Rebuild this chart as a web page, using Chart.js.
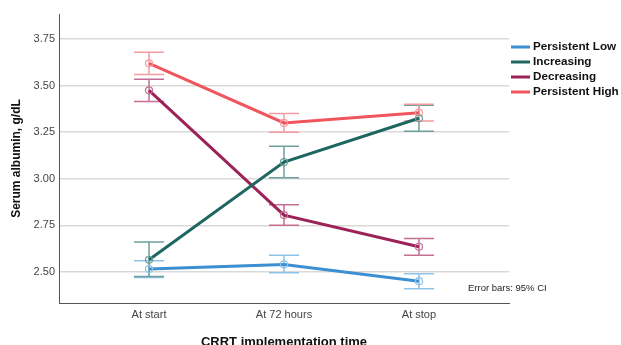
<!DOCTYPE html>
<html>
<head>
<meta charset="utf-8">
<script src="https://cdn.jsdelivr.net/npm/chart.js@4.4.1/dist/chart.umd.min.js"></script>
<style>
  html, body { margin: 0; padding: 0; background: #fff; }
  #wrap { width: 621px; height: 345px; }
</style>
</head>
<body>
<div id="wrap"><canvas id="grafica" width="621" height="345"></canvas></div>
<script>
// categorias y valores
const categorias = ['At start', 'At 72 hours', 'At stop'];
const yTicks = [2.50, 2.75, 3.00, 3.25, 3.50, 3.75];

const nombres = ['Persistent Low', 'Increasing', 'Decreasing', 'Persistent High'];

const persistentLow = [2.515, 2.54, 2.45];
const persistentLowBajo = [2.47, 2.495, 2.41];
const persistentLowAlto = [2.56, 2.59, 2.49];

const increasing = [2.565, 3.09, 3.325];
const increasingBajo = [2.475, 3.005, 3.255];
const increasingAlto = [2.66, 3.175, 3.395];

const decreasing = [3.475, 2.805, 2.635];
const decreasingBajo = [3.415, 2.75, 2.59];
const decreasingAlto = [3.535, 2.86, 2.68];

const persistentHigh = [3.62, 3.30, 3.355];
const persistentHighBajo = [3.56, 3.25, 3.31];
const persistentHighAlto = [3.68, 3.35, 3.40];

const colores = ['#3d8fd1', '#1e6660', '#9b2358', '#f0545c'];
const coloresClaros = ['#8ec3e8', '#6e9f9b', '#c56f93', '#f59ca0'];

const series = [persistentLow, increasing, decreasing, persistentHigh];
const bajos = [persistentLowBajo, increasingBajo, decreasingBajo, persistentHighBajo];
const altos = [persistentLowAlto, increasingAlto, decreasingAlto, persistentHighAlto];

const datasets = series.map((vals, i) => ({
    label: nombres[i],
    data: vals.map((v, j) => ({ x: j, y: v })),
    borderColor: colores[i],
    borderWidth: 3,
    pointRadius: 3.5,
    pointBorderWidth: 1.2,
    pointBorderColor: coloresClaros[i],
    pointBackgroundColor: 'rgba(255,255,255,0)',
    fill: false,
    tension: 0
}));

// barras de error (IC 95%)
const barrasError = {
    id: 'barrasError',
    beforeDatasetsDraw(chart) {
        const { ctx, scales: { x, y } } = chart;
        ctx.save();
        ctx.lineWidth = 1.5;
        series.forEach((vals, i) => {
            ctx.strokeStyle = coloresClaros[i];
            vals.forEach((v, j) => {
                const px = x.getPixelForValue(j);
                const y1 = y.getPixelForValue(bajos[i][j]);
                const y2 = y.getPixelForValue(altos[i][j]);
                ctx.beginPath();
                ctx.moveTo(px, y1); ctx.lineTo(px, y2);
                ctx.moveTo(px - 15, y1); ctx.lineTo(px + 15, y1);
                ctx.moveTo(px - 15, y2); ctx.lineTo(px + 15, y2);
                ctx.stroke();
            });
        });
        ctx.restore();
    }
};

// leyenda a la derecha y nota
const leyenda = {
    id: 'leyenda',
    afterDraw(chart) {
        const ctx = chart.ctx;
        const area = chart.chartArea;
        ctx.save();
        ctx.textBaseline = 'middle';
        nombres.forEach((n, i) => {
            const yy = 47 + i * 15;
            ctx.strokeStyle = colores[i];
            ctx.lineWidth = 3;
            ctx.beginPath();
            ctx.moveTo(area.right + 2, yy);
            ctx.lineTo(area.right + 21, yy);
            ctx.stroke();
            ctx.fillStyle = '#111';
            ctx.font = 'bold 11.7px "Liberation Sans", Arial, sans-serif';
            ctx.fillText(n, area.right + 24, yy);
        });
        ctx.font = '9.5px "Liberation Sans", Arial, sans-serif';
        ctx.fillStyle = '#222';
        ctx.fillText('Error bars: 95% CI', 468, 288);
        ctx.restore();
    }
};

new Chart(document.getElementById('grafica').getContext('2d'), {
    type: 'line',
    data: { datasets: datasets },
    plugins: [barrasError, leyenda],
    options: {
        responsive: false,
        animation: false,
        layout: { padding: { top: 14, right: 112, left: 0, bottom: 0 } },
        plugins: {
            legend: { display: false },
            tooltip: { enabled: false }
        },
        scales: {
            x: {
                type: 'linear',
                min: -0.667,
                max: 2.667,
                afterBuildTicks: s => { s.ticks = categorias.map((c, i) => ({ value: i })); },
                afterFit: s => { s.height = 42; },
                ticks: {
                    color: '#444',
                    font: { size: 11, family: '"Liberation Sans", Arial, sans-serif' },
                    padding: 5,
                    maxRotation: 0,
                    callback: v => categorias[v]
                },
                grid: { display: false, drawTicks: false },
                border: { color: '#555', width: 1 },
                title: {
                    display: true,
                    text: 'CRRT implementation time',
                    color: '#111',
                    font: { size: 13, weight: 'bold', family: '"Liberation Sans", Arial, sans-serif' },
                    padding: { top: 0, bottom: -5 }
                }
            },
            y: {
                min: 2.333,
                max: 3.885,
                afterBuildTicks: s => { s.ticks = yTicks.map(v => ({ value: v })); },
                afterFit: s => { s.width = 59; },
                ticks: {
                    color: '#444',
                    font: { size: 11, family: '"Liberation Sans", Arial, sans-serif' },
                    padding: 4,
                    callback: v => v.toFixed(2)
                },
                grid: { color: '#d9d9d9', lineWidth: 1.5, drawTicks: false },
                border: { color: '#555', width: 1 },
                title: {
                    display: true,
                    text: 'Serum albumin, g/dL',
                    color: '#111',
                    font: { size: 12, weight: 'bold', family: '"Liberation Sans", Arial, sans-serif' },
                    padding: { top: 9, bottom: 0 }
                }
            }
        }
    }
});
</script>
</body>
</html>
